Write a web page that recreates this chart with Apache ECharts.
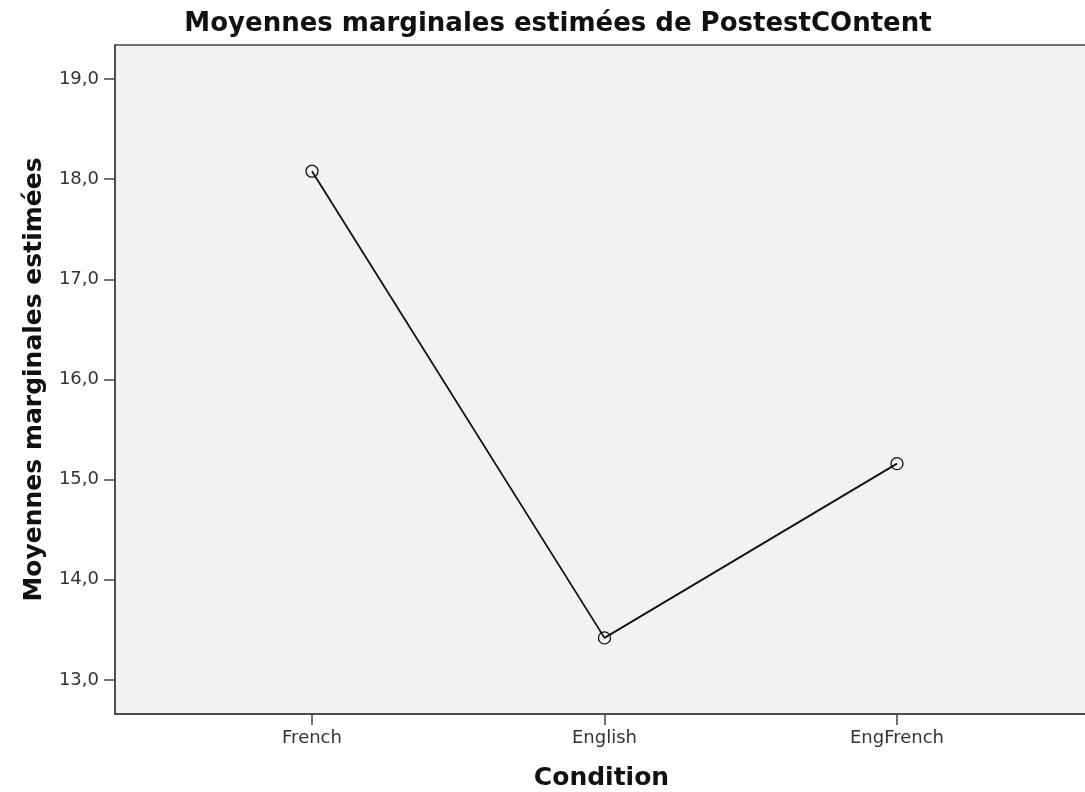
<!DOCTYPE html>
<html>
<head>
<meta charset="utf-8">
<script src="https://cdn.jsdelivr.net/npm/echarts@6/dist/echarts.min.js"></script>
<style>
  html, body { margin: 0; padding: 0; background: #fff; }
  #chart { width: 1085px; height: 792px; }
</style>
</head>
<body>
<div id="chart"></div>
<script>
// estimated marginal means
var conditions = ['French', 'English', 'EngFrench'];
var means = [18.08, 13.42, 15.16];
var yTicks = [13, 14, 15, 16, 17, 18, 19];

var chart = echarts.init(document.getElementById('chart'));

var points = means.map(function(v, i) { return [i + 1, v]; });
var textFont = 'DejaVu Sans';

var option = {
    animation: false,
    title: {
        text: 'Moyennes marginales estimées de PostestCOntent',
        left: 553,
        textAlign: 'center',
        top: 6,
        textStyle: { fontFamily: textFont, fontSize: 26, fontWeight: 'bold', color: '#111' }
    },
    // plot runs off the right edge, as in the original export
    grid: {
        left: 115,
        top: 45,
        right: -3,
        bottom: 78,
        outerBoundsMode: 'none',
        show: true,
        backgroundColor: '#f2f2f2',
        borderColor: '#444',
        borderWidth: 1.5
    },
    xAxis: {
        type: 'value',
        min: 0.3265,
        max: 3.653,
        name: 'Condition',
        nameLocation: 'middle',
        nameGap: 52,
        nameTextStyle: { fontFamily: textFont, fontSize: 25, fontWeight: 'bold', color: '#111' },
        splitLine: { show: false },
        axisLine: { show: true, lineStyle: { color: '#444', width: 1.5 } },
        axisTick: { show: true, length: 11, customValues: [1, 2, 3], lineStyle: { color: '#444', width: 1.5 } },
        axisLabel: {
            customValues: [1, 2, 3],
            margin: 15,
            fontFamily: textFont, fontSize: 18, color: '#333',
            formatter: function(v) { return conditions[Math.round(v) - 1] || ''; }
        }
    },
    yAxis: {
        type: 'value',
        min: 12.66,
        max: 19.34,
        name: 'Moyennes marginales estimées',
        nameLocation: 'middle',
        nameGap: 68,
        nameTextStyle: { fontFamily: textFont, fontSize: 25, fontWeight: 'bold', color: '#111' },
        splitLine: { show: false },
        axisLine: { show: true, lineStyle: { color: '#444', width: 1.5 } },
        axisTick: { show: true, length: 11, customValues: yTicks, lineStyle: { color: '#444', width: 1.5 } },
        axisLabel: {
            customValues: yTicks,
            margin: 16,
            fontFamily: textFont, fontSize: 18, color: '#333',
            formatter: function(v) { return v.toFixed(1).replace('.', ','); }
        }
    },
    series: [{
        type: 'line',
        data: points,
        symbol: 'circle',
        symbolSize: 12,
        lineStyle: { color: '#111', width: 1.8 },
        itemStyle: { color: 'rgba(0,0,0,0)', borderColor: '#111', borderWidth: 1.3 }
    }]
};

chart.setOption(option);
</script>
</body>
</html>
